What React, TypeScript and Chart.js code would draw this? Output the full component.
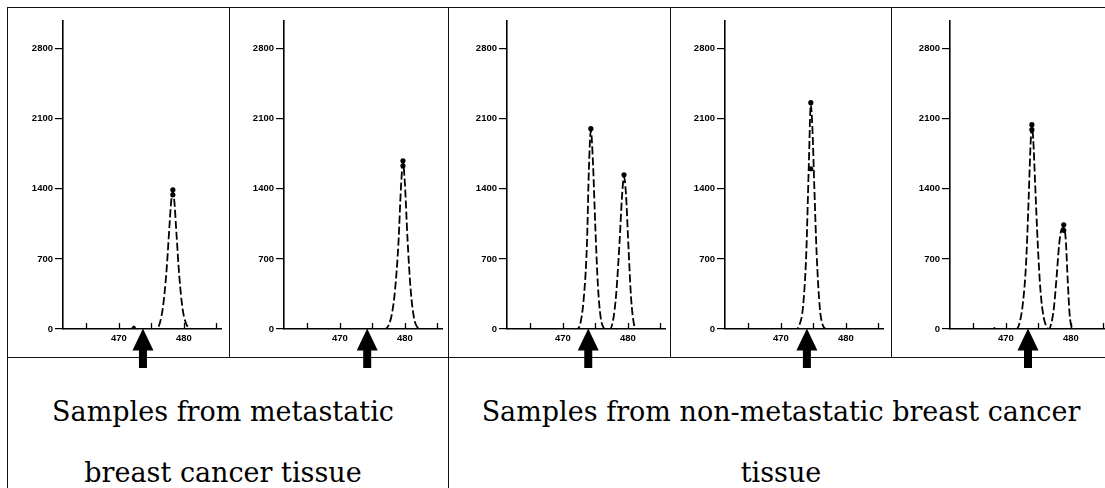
import React, { useEffect, useRef } from "react";
import { Chart, registerables } from "chart.js";

Chart.register(...registerables);

// ---------------- data ----------------
const xTickValues = [465, 470, 475, 480, 485];
const xTickLabels = ["", "470", "", "480", ""];
const yTickValues = [0, 700, 1400, 2100, 2800];
const yTickLabels = ["0", "700", "1400", "2100", "2800"];
const xRange = [461.4, 485.8];
const yRange = [0, 3075];

// panel 1 (metastatic)
const p1X = [461.4, 471.9, 472.3, 472.7, 475.8, 476.3, 476.8, 477.3, 477.8, 478.05, 478.3, 478.55, 478.8, 479.3, 479.8, 480.3, 480.8, 481.3, 485.8];
const p1Y = [0, 0, 25, 0, 0, 60, 230, 560, 1050, 1280, 1370, 1260, 1010, 520, 200, 60, 10, 0, 0];
const p1PeakX = [478.3, 478.3];
const p1PeakY = [1390, 1340];

// panel 2 (metastatic)
const p2X = [461.4, 477.0, 477.5, 478.0, 478.5, 479.0, 479.4, 479.7, 480.0, 480.4, 480.9, 481.4, 481.9, 482.4, 485.8];
const p2Y = [0, 0, 40, 150, 400, 850, 1420, 1660, 1450, 900, 380, 110, 20, 0, 0];
const p2PeakX = [479.7, 479.7];
const p2PeakY = [1680, 1630];

// panel 3 (non-metastatic)
const p3X = [461.4, 472.2, 472.7, 473.2, 473.7, 474.0, 474.3, 474.6, 475.0, 475.4, 475.8, 476.2, 476.6, 477.2, 477.7, 478.2, 478.7, 479.1, 479.4, 479.7, 480.1, 480.5, 480.9, 481.3, 485.8];
const p3Y = [0, 0, 60, 300, 850, 1600, 1980, 1700, 1000, 420, 120, 20, 0, 0, 80, 350, 850, 1330, 1520, 1350, 800, 300, 60, 0, 0];
const p3PeakX = [474.3, 479.4];
const p3PeakY = [2000, 1540];

// panel 4 (non-metastatic)
const p4X = [461.4, 472.3, 472.9, 473.4, 473.9, 474.3, 474.6, 474.85, 475.15, 475.5, 476.0, 476.5, 477.0, 485.8];
const p4Y = [0, 0, 50, 220, 750, 1650, 2240, 2000, 1400, 750, 200, 30, 0, 0];
const p4PeakX = [474.6, 474.6];
const p4PeakY = [2260, 1600];

// panel 5 (non-metastatic)
const p5X = [461.4, 467.5, 468.0, 468.5, 471.6, 472.1, 472.6, 473.1, 473.5, 473.8, 474.0, 474.2, 474.5, 474.9, 475.3, 475.8, 476.3, 476.6, 477.0, 477.4, 477.8, 478.2, 478.6, 478.9, 479.2, 479.5, 479.8, 480.1, 480.4, 485.8];
const p5Y = [0, 0, 15, 0, 0, 60, 250, 650, 1300, 1850, 2020, 1900, 1450, 850, 400, 120, 20, 0, 60, 220, 520, 850, 1000, 1010, 900, 500, 150, 20, 0, 0];
const p5PeakX = [474.0, 474.0, 478.9, 478.9];
const p5PeakY = [2040, 1990, 1040, 985];

const arrowPositions = [473.7, 474.2, 473.9, 474.0, 473.4];

const captionLeft = ["Samples from metastatic", "breast cancer tissue"];
const captionRight = ["Samples from non-metastatic breast cancer", "tissue"];

const traceX = [p1X, p2X, p3X, p4X, p5X];
const traceY = [p1Y, p2Y, p3Y, p4Y, p5Y];
const peakX = [p1PeakX, p2PeakX, p3PeakX, p4PeakX, p5PeakX];
const peakY = [p1PeakY, p2PeakY, p3PeakY, p4PeakY, p5PeakY];

// ---------------- layout ----------------
const AXIS_X = [63, 284, 507, 725, 950];
const CANVAS_W = 219;
const CANVAS_H = 364;
const CANVAS_TOP = 8;
const Y_AXIS_W = 50;
const PAD_LEFT = 6;
const PLOT_W = (xRange[1] - xRange[0]) * 6.5;
const TICK_FONT = { family: "'Liberation Sans', Arial, sans-serif", size: 9.5, weight: "bold" as const };

const electroPlugin = {
  id: "electro",
  afterDraw(chart: any, _args: any, opts: any) {
    const { ctx, chartArea } = chart;
    const xs = chart.scales.x;
    ctx.save();
    ctx.strokeStyle = "#000";
    ctx.lineWidth = 1.3;
    for (const v of xTickValues) {
      const px = Math.round(xs.getPixelForValue(v)) + 0.5;
      ctx.beginPath();
      ctx.moveTo(px, chartArea.bottom);
      ctx.lineTo(px, chartArea.bottom - 6);
      ctx.stroke();
    }
    const ax = xs.getPixelForValue(opts.arrow);
    const tip = chartArea.bottom - 0.5;
    const headH = 22;
    const headW = 10.5;
    const shaftW = 4;
    const end = 360;
    ctx.fillStyle = "#000";
    ctx.beginPath();
    ctx.moveTo(ax, tip);
    ctx.lineTo(ax + headW, tip + headH);
    ctx.lineTo(ax + shaftW, tip + headH);
    ctx.lineTo(ax + shaftW, end);
    ctx.lineTo(ax - shaftW, end);
    ctx.lineTo(ax - shaftW, tip + headH);
    ctx.lineTo(ax - headW, tip + headH);
    ctx.closePath();
    ctx.fill();
    ctx.restore();
  },
};

function Panel({ idx }: { idx: number }) {
  const ref = useRef<HTMLCanvasElement>(null);
  useEffect(() => {
    if (!ref.current) return;
    const line = traceX[idx].map((x, i) => ({ x, y: traceY[idx][i] }));
    const peaks = peakX[idx].map((x, i) => ({ x, y: peakY[idx][i] }));
    const plotRight = PAD_LEFT + Y_AXIS_W + PLOT_W;
    const chart = new Chart(ref.current, {
      type: "line",
      data: {
        datasets: [
          {
            type: "line",
            data: line,
            borderColor: "#000",
            borderWidth: 1.8,
            borderDash: [8, 3],
            pointRadius: 0,
            fill: false,
            cubicInterpolationMode: "monotone",
          },
          {
            type: "scatter",
            data: peaks,
            pointRadius: 2.6,
            backgroundColor: "#000",
            borderWidth: 0,
            showLine: false,
          },
        ],
      },
      options: {
        animation: false,
        responsive: false,
        devicePixelRatio: 1,
        events: [],
        layout: {
          padding: {
            left: PAD_LEFT,
            top: 13,
            right: CANVAS_W - plotRight,
            bottom: 23,
          },
        },
        plugins: {
          legend: { display: false },
          tooltip: { enabled: false },
          electro: { arrow: arrowPositions[idx] },
        } as any,
        scales: {
          x: {
            type: "linear",
            min: xRange[0],
            max: xRange[1],
            afterBuildTicks: (s: any) => {
              s.ticks = xTickValues.map((v) => ({ value: v }));
            },
            afterFit: (s: any) => {
              s.height = 20;
            },
            ticks: {
              autoSkip: false,
              maxRotation: 0,
              padding: 4,
              color: "#000",
              font: TICK_FONT,
              callback: (v: any) => {
                const i = xTickValues.indexOf(Number(v));
                return i >= 0 ? xTickLabels[i] : "";
              },
            },
            grid: { display: true, drawOnChartArea: false, drawTicks: false },
            border: { display: true, color: "#000", width: 1.6 },
          },
          y: {
            type: "linear",
            min: yRange[0],
            max: yRange[1],
            afterBuildTicks: (s: any) => {
              s.ticks = yTickValues.map((v) => ({ value: v }));
            },
            afterFit: (s: any) => {
              s.width = Y_AXIS_W;
            },
            ticks: {
              autoSkip: false,
              padding: 2,
              color: "#000",
              font: TICK_FONT,
              callback: (v: any) => {
                const i = yTickValues.indexOf(Number(v));
                return i >= 0 ? yTickLabels[i] : "";
              },
            },
            grid: {
              display: true,
              drawOnChartArea: false,
              drawTicks: true,
              tickLength: 8,
              color: "#000",
              lineWidth: 1.2,
            },
            border: { display: true, color: "#000", width: 1.6 },
          },
        },
      },
      plugins: [electroPlugin as any],
    } as any);
    return () => chart.destroy();
  }, [idx]);
  return (
    <canvas
      ref={ref}
      width={CANVAS_W}
      height={CANVAS_H}
      style={{
        position: "absolute",
        left: AXIS_X[idx] - PAD_LEFT - Y_AXIS_W,
        top: CANVAS_TOP,
        width: CANVAS_W,
        height: CANVAS_H,
      }}
    />
  );
}

const line = (left: number, top: number, width: number, height: number) => (
  <div style={{ position: "absolute", left, top, width, height, background: "#111" }} />
);

const captionStyle = (left: number, width: number, top: number): React.CSSProperties => ({
  position: "absolute",
  left,
  top,
  width,
  textAlign: "center",
  fontFamily: "'DejaVu Serif', serif",
  fontSize: 27,
  lineHeight: "27px",
  whiteSpace: "nowrap",
  color: "#000",
});

export default function App() {
  return (
    <div
      style={{
        position: "absolute",
        left: 0,
        top: 0,
        width: 1105,
        height: 488,
        overflow: "hidden",
        background: "#fff",
      }}
    >
      {line(7, 7, 1098, 1)}
      {line(7, 7, 1, 481)}
      {line(7, 357, 1098, 1)}
      {line(229, 7, 1, 350)}
      {line(448, 7, 1, 481)}
      {line(670, 7, 1, 350)}
      {line(891, 7, 1, 350)}
      {[0, 1, 2, 3, 4].map((i) => (
        <Panel key={i} idx={i} />
      ))}
      <div style={captionStyle(7, 432, 398)}>{captionLeft[0]}</div>
      <div style={captionStyle(7, 432, 459)}>{captionLeft[1]}</div>
      <div style={captionStyle(448, 666, 398)}>{captionRight[0]}</div>
      <div style={captionStyle(448, 666, 459)}>{captionRight[1]}</div>
    </div>
  );
}
